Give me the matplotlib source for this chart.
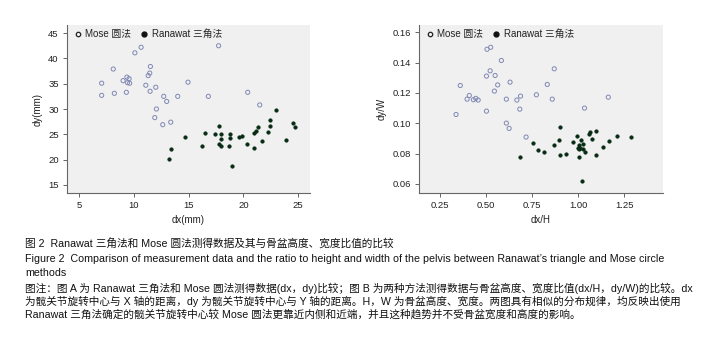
import matplotlib
matplotlib.use("Agg")
import matplotlib.pyplot as plt
from matplotlib.lines import Line2D

plt.rcParams['font.family'] = ['Liberation Sans', 'Noto Sans CJK SC', 'DejaVu Sans']

# ---- Data: panel A (dx, dy in mm) ----
mose_dx = [7.04, 7.04, 8.1, 8.2, 9.0, 9.3, 9.35, 9.4, 9.55, 9.6, 10.08, 10.65, 11.08, 11.3, 11.44,
           11.5, 11.47, 11.99, 11.9, 12.05, 12.63, 12.72, 12.99, 13.36, 14.0, 14.94, 16.8, 17.74, 20.4, 21.5]
mose_dy = [35.1, 32.7, 37.9, 33.1, 35.6, 33.3, 36.3, 35.2, 36.0, 35.1, 41.1, 42.2, 34.7, 36.6, 37.1,
           38.4, 33.5, 34.3, 28.3, 30.0, 26.9, 32.5, 31.5, 27.4, 32.5, 35.3, 32.5, 42.5, 33.3, 30.8]
ran_dx = [14.7, 13.36, 13.18, 16.19, 16.52, 17.43, 17.74, 17.74, 17.98, 18.0, 17.98, 18.74, 18.74, 18.65,
          18.98, 19.6, 19.86, 20.3, 21.0, 21.0, 21.17, 21.38, 21.7, 22.3, 22.4, 22.4, 23.0, 23.9, 24.5, 24.7]
ran_dy = [24.5, 22.1, 20.15, 22.7, 25.3, 25.0, 26.7, 23.0, 25.1, 24.0, 22.6, 25.1, 24.2, 22.7,
          18.7, 24.5, 24.6, 23.0, 22.3, 25.3, 25.7, 26.4, 23.7, 25.5, 26.7, 27.9, 29.8, 23.8, 27.3, 26.4]

# ---- Data: panel B (dx/H, dy/W) ----
mose_xh = [0.337, 0.36, 0.397, 0.409, 0.431, 0.444, 0.457, 0.502, 0.505, 0.525, 0.502, 0.522, 0.549, 0.563,
           0.545, 0.583, 0.610, 0.610, 0.625, 0.630, 0.667, 0.687, 0.683, 0.717, 0.773, 0.832, 0.859, 0.87,
           1.034, 1.163]
mose_yw = [0.1058, 0.1249, 0.1159, 0.1183, 0.1155, 0.1164, 0.1153, 0.1080, 0.1488, 0.1501, 0.1311, 0.1346,
           0.1315, 0.1253, 0.1212, 0.1414, 0.1159, 0.1001, 0.0966, 0.1271, 0.1153, 0.1179, 0.1093, 0.0909,
           0.1188, 0.1256, 0.1159, 0.1359, 0.1100, 0.1172]
ran_xh = [0.683, 0.752, 0.784, 0.815, 0.868, 0.899, 0.897, 0.899, 0.931, 0.969, 0.993, 1.002, 1.004, 1.004,
          1.015, 1.025, 1.025, 1.038, 1.02, 1.06, 1.066, 1.075, 1.096, 1.098, 1.134, 1.168, 1.21, 1.288,
          1.012, 0.998]
ran_yw = [0.0778, 0.0872, 0.0824, 0.0813, 0.0854, 0.0973, 0.0889, 0.0789, 0.0797, 0.0878, 0.0916, 0.0854,
          0.0832, 0.0778, 0.0889, 0.0863, 0.0830, 0.0811, 0.0620, 0.0931, 0.0942, 0.0898, 0.0947, 0.0789,
          0.0841, 0.0881, 0.0918, 0.0907, 0.0834, 0.0834]

x_ticks_a = [5, 10, 15, 20, 25]
y_ticks_a = [15, 20, 25, 30, 35, 40, 45]
x_ticks_b = [0.25, 0.50, 0.75, 1.00, 1.25]
y_ticks_b = [0.06, 0.08, 0.10, 0.12, 0.14, 0.16]

legend_labels = ['Mose 圆法', 'Ranawat 三角法']

caption = [
    ("图 2  Ranawat 三角法和 Mose 圆法测得数据及其与骨盆高度、宽度比值的比较", 244, 7.7),
    ("Figure 2  Comparison of measurement data and the ratio to height and width of the pelvis between Ranawat’s triangle and Mose circle", 259, 7.7),
    ("methods", 273, 7.7),
    ("图注：图 A 为 Ranawat 三角法和 Mose 圆法测得数据(dx，dy)比较；图 B 为两种方法测得数据与骨盆高度、宽度比值(dx/H，dy/W)的比较。dx", 288, 7.65),
    ("为髋关节旋转中心与 X 轴的距离，dy 为髋关节旋转中心与 Y 轴的距离。H，W 为骨盆高度、宽度。两图具有相似的分布规律，均反映出使用", 301, 7.65),
    ("Ranawat 三角法确定的髋关节旋转中心较 Mose 圆法更靠近内侧和近端，并且这种趋势并不受骨盆宽度和高度的影响。", 314, 7.65),
]

W, H = 722, 338
fig = plt.figure(figsize=(W / 100, H / 100), dpi=100)
fig.patch.set_facecolor('white')

BG = '#f0f0f0'
SPINE = '#666666'
TXT = '#222222'
MOSE_EC = '#8088b4'
RAN_C = '#062a12'


def style(ax, xt, yt, xlim, ylim, xlabel, ylabel, xfmt, yfmt):
    ax.set_facecolor(BG)
    for s in ['top', 'right']:
        ax.spines[s].set_visible(False)
    for s in ['left', 'bottom']:
        ax.spines[s].set_color(SPINE)
        ax.spines[s].set_linewidth(0.8)
    ax.set_xlim(*xlim)
    ax.set_ylim(*ylim)
    ax.set_xticks(xt)
    ax.set_yticks(yt)
    ax.set_xticklabels([xfmt.format(v) for v in xt])
    ax.set_yticklabels([yfmt.format(v) for v in yt])
    ax.tick_params(axis='both', colors=SPINE, labelcolor=TXT, labelsize=6.8, length=3, width=0.7, pad=3)
    ax.set_xlabel(xlabel, fontsize=7, color=TXT, labelpad=3.5)
    ax.set_ylabel(ylabel, fontsize=7, color=TXT, labelpad=4)
    handles = [
        Line2D([], [], linestyle='none', marker='o', markersize=3.2, markerfacecolor='none',
               markeredgecolor='#222222', markeredgewidth=0.9),
        Line2D([], [], linestyle='none', marker='o', markersize=3.5, markerfacecolor='#111111',
               markeredgecolor='#111111'),
    ]
    ax.legend(handles, legend_labels, loc='upper left', ncol=2, frameon=False, fontsize=7,
              handletextpad=0.3, columnspacing=0.8, borderaxespad=0.2, handlelength=1.0,
              bbox_to_anchor=(0.0, 1.01), labelcolor=TXT)


ax1 = fig.add_axes([67 / W, 1 - 193 / H, (310 - 67) / W, (193 - 25) / H])
ax1.scatter(mose_dx, mose_dy, s=9, facecolors='none', edgecolors=MOSE_EC, linewidths=0.7, zorder=3)
ax1.scatter(ran_dx, ran_dy, s=7, c=RAN_C, edgecolors=RAN_C, linewidths=0.3, zorder=3)
style(ax1, x_ticks_a, y_ticks_a, (3.87, 26.1), (13.4, 46.6), 'dx(mm)', 'dy(mm)', '{:g}', '{:g}')

ax2 = fig.add_axes([419 / W, 1 - 193 / H, (663 - 419) / W, (193 - 25) / H])
ax2.scatter(mose_xh, mose_yw, s=9, facecolors='none', edgecolors=MOSE_EC, linewidths=0.7, zorder=3)
ax2.scatter(ran_xh, ran_yw, s=7, c=RAN_C, edgecolors=RAN_C, linewidths=0.3, zorder=3)
style(ax2, x_ticks_b, y_ticks_b, (0.136, 1.46), (0.054, 0.1648), 'dx/H', 'dy/W', '{:.2f}', '{:.2f}')

for text, y, fs in caption:
    fig.text(25 / W, 1 - y / H, text, fontsize=fs, color='#111111', va='center', ha='left')

fig.savefig('out.png', dpi=100, facecolor='white')
